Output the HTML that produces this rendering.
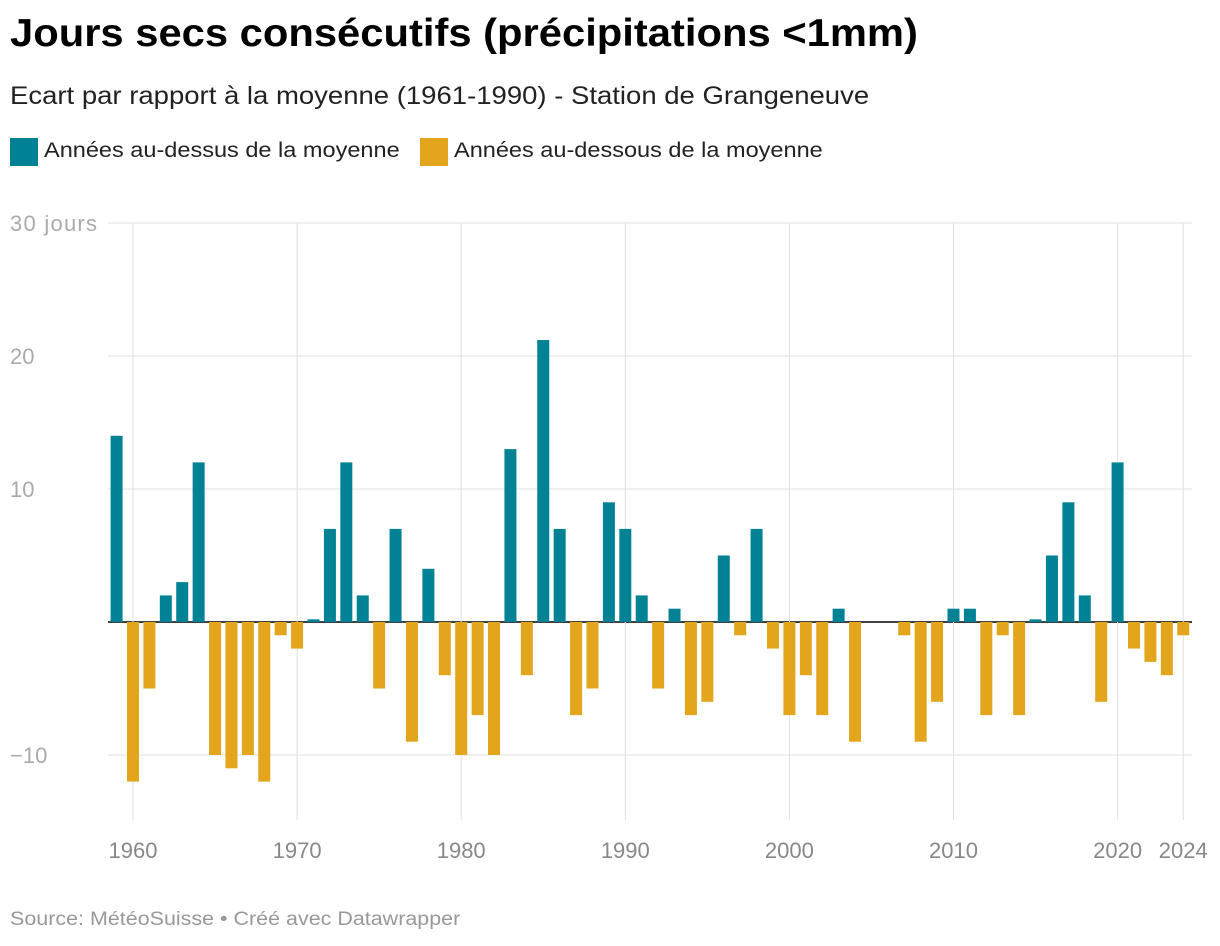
<!DOCTYPE html>
<html><head><meta charset="utf-8"><style>
body{margin:0;background:#fff;font-family:"Liberation Sans",Arial,sans-serif;width:1220px;height:946px;overflow:hidden;position:relative}
.t{position:absolute;white-space:nowrap;transform-origin:0 50%}
</style></head><body>
<div class="t" style="left:10px;top:12px;font-size:39px;font-weight:bold;color:#000;transform:scaleX(1.07)">Jours secs consécutifs (précipitations &lt;1mm)</div>
<div class="t" style="left:10px;top:82px;font-size:25px;color:#222;transform:scaleX(1.1)">Ecart par rapport à la moyenne (1961-1990) - Station de Grangeneuve</div>
<div style="position:absolute;left:10px;top:138px;width:28px;height:28px;background:#008294"></div>
<div class="t" style="left:44px;top:139px;font-size:21px;color:#222;transform:scaleX(1.12)">Années au-dessus de la moyenne</div>
<div style="position:absolute;left:420px;top:138px;width:28px;height:28px;background:#e2a51b"></div>
<div class="t" style="left:454px;top:139px;font-size:21px;color:#222;transform:scaleX(1.12)">Années au-dessous de la moyenne</div>
<svg id="chart" width="1220" height="946" style="position:absolute;left:0;top:0"></svg>
<div class="t" style="left:10px;top:909px;font-size:19px;color:#999;transform:scaleX(1.13)">Source: MétéoSuisse • Créé avec Datawrapper</div>
<script>
const years=[];for(let y=1959;y<=2024;y++)years.push(y);
const values=[14,-12,-5,2,3,12,-10,-11,-10,-12,-1,-2,0.2,7,12,2,-5,7,-9,4,-4,-10,-7,-10,13,-4,21.2,7,-7,-5,9,7,2,-5,1,-7,-6,5,-1,7,-2,-7,-4,-7,1,-9,0,0,-1,-9,-6,1,1,-7,-1,-7,0.2,5,9,2,-6,12,-2,-3,-4,-1];
const yTicks=[30,20,10,0,-10];
const yTickLabels=["30 jours","20","10","","−10"];
const xTicks=[1960,1970,1980,1990,2000,2010,2020,2024];
const NS="http://www.w3.org/2000/svg",svg=document.getElementById('chart');
const x=y=>133+(y-1960)*16.41;
const yv=v=>622-v*13.3;
function mk(t,a){const e=document.createElementNS(NS,t);for(const k in a)e.setAttribute(k,a[k]);svg.appendChild(e);return e;}
yTicks.forEach((v,i)=>{
  const l=mk('line',{x1:108,x2:1192,y1:yv(v),y2:yv(v),stroke:v===0?'#000':'#e0e0e0','stroke-width':v===0?1.5:1});
  
  
  if(yTickLabels[i]){const t=mk('text',{x:10,y:yv(v)+8,'font-size':22,fill:'#aaa',textLength:yTickLabels[i].length>3?87:undefined});t.textContent=yTickLabels[i];
  if(yTickLabels[i].length<=3)t.removeAttribute('textLength');
  
  }
});
xTicks.forEach(yr=>{
  const l=mk('line',{x1:x(yr),x2:x(yr),y1:223,y2:820,stroke:'#e0e0e0'});
  
  
  const t=mk('text',{x:x(yr),y:858,'font-size':22,fill:'#888','text-anchor':'middle'});t.textContent=yr;
  
  
});
years.forEach((yr,i)=>{
  const v=values[i];if(v===0)return;
  const top=Math.min(yv(v),yv(0)),h=Math.abs(yv(v)-yv(0));
  const r=mk('rect',{x:x(yr)-6,y:top,width:12,height:Math.max(h,1),fill:v>0?'#008294':'#e2a51b'});
  
  
});
</script>
</body></html>
